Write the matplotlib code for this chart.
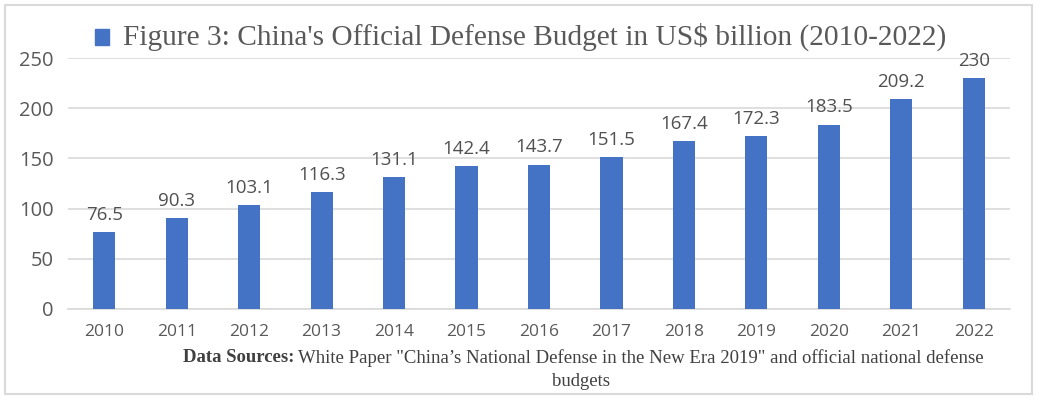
import matplotlib
matplotlib.use("Agg")
import matplotlib.pyplot as plt
from matplotlib.patches import Rectangle

years = ["2010", "2011", "2012", "2013", "2014", "2015", "2016",
         "2017", "2018", "2019", "2020", "2021", "2022"]
budget = [76.5, 90.3, 103.1, 116.3, 131.1, 142.4, 143.7,
          151.5, 167.4, 172.3, 183.5, 209.2, 230]
labels = ["76.5", "90.3", "103.1", "116.3", "131.1", "142.4", "143.7",
          "151.5", "167.4", "172.3", "183.5", "209.2", "230"]
yticks = [0, 50, 100, 150, 200, 250]

W, H = 1038, 397
fig = plt.figure(figsize=(W / 100, H / 100), dpi=100)
fig.patch.set_facecolor("white")

# outer frame
fig.patches.append(Rectangle((5 / W, 3 / H), 1027 / W, 389 / H,
                             transform=fig.transFigure, fill=False,
                             edgecolor="#D9D9D9", linewidth=1.5))

ax = fig.add_axes([68 / W, 1 - 309 / H, 942 / W, 251 / H])
bar_color = "#4472C4"
x = list(range(len(years)))
ax.bar(x, budget, width=0.305, color=bar_color, zorder=3)
ax.set_xlim(-0.5, len(years) - 0.5)
ax.set_ylim(0, 250)
ax.set_yticks(yticks)
ax.set_xticks(x)
ax.set_xticklabels(years)
for s in ["top", "right", "left"]:
    ax.spines[s].set_visible(False)
ax.spines["bottom"].set_color("#D9D9D9")
ax.spines["bottom"].set_linewidth(1.2)
ax.grid(axis="y", color="#D9D9D9", linewidth=1.2, zorder=0)
ax.tick_params(axis="both", length=0, colors="#595959")
ax.tick_params(axis="y", labelsize=14.5, pad=10.5)
ax.tick_params(axis="x", labelsize=12.5, pad=11)
for lab in ax.get_yticklabels() + ax.get_xticklabels():
    lab.set_fontfamily("Open Sans")

for xi, v, t in zip(x, budget, labels):
    ax.annotate(t, (xi, v), xytext=(0, 6), textcoords="offset points",
                ha="center", va="bottom", fontsize=13.5, color="#505050",
                family="Open Sans", annotation_clip=False)

# legend-like title
fig.patches.append(Rectangle((95 / W, 1 - 45 / H), 14 / W, 16 / H,
                             transform=fig.transFigure, color=bar_color))
fig.text(123 / W, 1 - 37 / H,
         "Figure 3: China's Official Defense Budget in US$ billion (2010-2022)",
         ha="left", va="center", fontsize=21.2, family="Liberation Serif",
         color="#595959")

# source footnote
fs = 13.5
t1 = fig.text(183 / W, 1 - 358 / H, "Data Sources:", ha="left", va="center",
              fontsize=fs, fontweight="bold", family="Liberation Serif",
              color="#404040")
fig.canvas.draw()
bb = t1.get_window_extent(fig.canvas.get_renderer())
fig.text(bb.x1 / W + 4 / W, 1 - 358 / H,
         "White Paper \"China\u2019s National Defense in the New Era 2019\" and official national defense",
         ha="left", va="center", fontsize=fs, family="Liberation Serif",
         color="#404040")
fig.text(581 / W, 1 - 381 / H, "budgets", ha="center", va="center",
         fontsize=fs, family="Liberation Serif", color="#404040")

fig.savefig("out.png", dpi=100, facecolor="white")
